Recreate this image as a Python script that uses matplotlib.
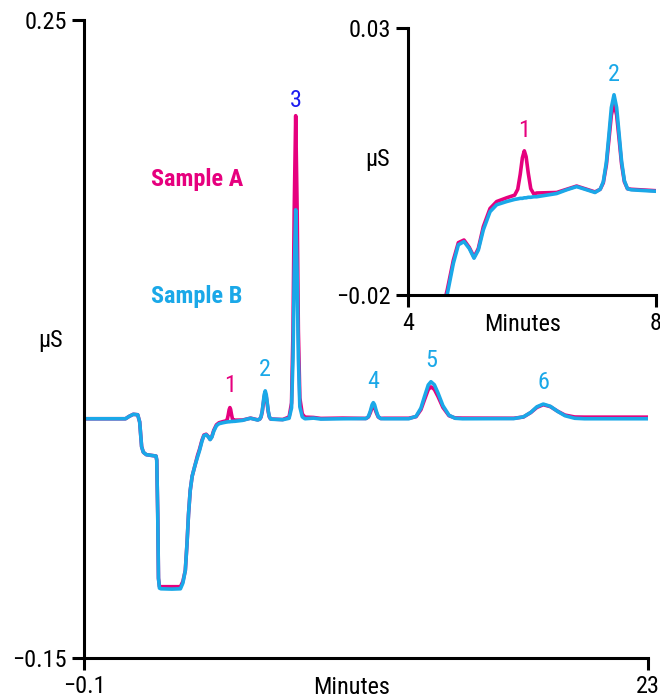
import matplotlib
matplotlib.use("Agg")
import matplotlib.pyplot as plt
from matplotlib import font_manager

names = {f.name for f in font_manager.fontManager.ttflist}
FONT = "DejaVu Sans"
for cand in ["Roboto Condensed", "Liberation Sans Narrow", "Roboto", "Liberation Sans"]:
    if cand in names:
        FONT = cand
        break
plt.rcParams['font.family'] = [FONT, 'DejaVu Sans']

# ---------------- data ----------------
time_min = [0.05, 1.6, 1.75, 1.92, 2.1, 2.18, 2.26, 2.33, 2.45, 2.85, 2.88, 2.92, 2.95, 2.99,
            3.05, 3.5, 3.85, 3.95, 4.05, 4.12, 4.18, 4.25, 4.33, 4.45, 4.55, 4.634, 4.731,
            4.812, 4.903, 4.989, 5.065, 5.134, 5.215, 5.323, 5.43, 5.591, 5.72, 5.77, 5.81,
            5.845, 5.876, 5.905, 5.94, 5.98, 6.03, 6.075, 6.398, 6.559, 6.72, 6.882, 7.016,
            7.10, 7.15, 7.20, 7.24, 7.28, 7.323, 7.365, 7.405, 7.445, 7.49, 7.54, 7.6,
            8.038, 8.3, 8.4, 8.46, 8.51, 8.57, 8.63, 8.68, 8.74, 8.84, 8.95, 9.3, 9.6, 10.5,
            11.45, 11.55, 11.63, 11.7, 11.75, 11.8, 11.87, 11.95, 12.05, 12.2, 13.2, 13.5,
            13.7, 13.85, 14.0, 14.11, 14.25, 14.4, 14.6, 14.85, 15.1, 15.4, 17.5, 17.9,
            18.2, 18.45, 18.71, 19.0, 19.3, 19.6, 20.0, 20.4, 22.0, 23.0]

sample_b = [0.0, 0.0, 0.0015, 0.0028, 0.0025, -0.002, -0.0175, -0.021, -0.0225, -0.0234,
            -0.026, -0.06, -0.10, -0.1062, -0.1066, -0.1068, -0.1066, -0.103, -0.095,
            -0.078, -0.060, -0.045, -0.036, -0.029, -0.024, -0.0198, -0.0141, -0.0106,
            -0.0100, -0.0113, -0.0131, -0.0116, -0.0078, -0.0044, -0.0031, -0.0025,
            -0.0021, -0.0020, -0.0019, -0.0019, -0.0018, -0.0018, -0.0017, -0.0017,
            -0.0016, -0.0016, -0.001, -0.0003, 0.0003, -0.0003, -0.0008,
            -0.0002, 0.0012, 0.0049, 0.0099, 0.0151, 0.0175, 0.0151, 0.0101, 0.0050,
            0.0014, -0.0001, -0.0003,
            -0.0006, 0.0003, 0.0068, 0.038, 0.090, 0.131, 0.090, 0.038, 0.0075, 0.0012,
            0.0, 0.0004, -0.0002, 0.0,
            0.0001, 0.0014, 0.0049, 0.0088, 0.0101, 0.0088, 0.0049, 0.0014, 0.0001, 0.0,
            0.0, 0.0015, 0.0067, 0.0141, 0.0212, 0.0232, 0.0213, 0.0161, 0.0082, 0.0022,
            0.0003, 0.0, 0.0001, 0.0012, 0.0040, 0.0075, 0.0092, 0.0078, 0.0046, 0.0019,
            0.0003, 0.0, 0.0, 0.0]

sample_a = [0.0, 0.0, 0.0015, 0.0028, 0.0025, -0.002, -0.0175, -0.021, -0.0225, -0.0234,
            -0.026, -0.06, -0.10, -0.1052, -0.1053, -0.1053, -0.1053, -0.102, -0.095,
            -0.078, -0.060, -0.045, -0.036, -0.029, -0.023, -0.0190, -0.0135, -0.0102,
            -0.0097, -0.0111, -0.0129, -0.0113, -0.0072, -0.0038, -0.0025, -0.0018,
            -0.0013, -0.0002, 0.0026, 0.0057, 0.0070, 0.0059, 0.0028, -0.0001, -0.0011,
            -0.0009, -0.0008, -0.0002, 0.0004, -0.0002, -0.0007,
            -0.0002, 0.0010, 0.0044, 0.0090, 0.0137, 0.0159, 0.0137, 0.0092, 0.0045,
            0.0012, -0.0001, -0.0002,
            -0.0005, 0.0011, 0.0099, 0.055, 0.131, 0.190, 0.131, 0.055, 0.013, 0.003,
            0.001, 0.0008, 0.0002, 0.0004,
            0.0002, 0.0011, 0.0039, 0.0070, 0.0080, 0.0070, 0.0039, 0.0011, 0.0002, 0.0003,
            0.0003, 0.0013, 0.0057, 0.0121, 0.0183, 0.0200, 0.0184, 0.0139, 0.0071, 0.0019,
            0.0005, 0.0004, 0.0003, 0.0011, 0.0039, 0.0071, 0.0088, 0.0076, 0.0047, 0.0023,
            0.0011, 0.0010, 0.0010, 0.0010]

main_peak_labels = ["1", "2", "3", "4", "5", "6"]
main_peak_times = [5.88, 7.32, 8.57, 11.75, 14.11, 18.71]
main_peak_heights = [0.0074, 0.0175, 0.190, 0.0101, 0.0232, 0.0092]
inset_peak_labels = ["1", "2"]
inset_peak_times = [5.876, 7.323]
inset_peak_heights = [0.0070, 0.0175]

PINK = "#e6007e"
CYAN = "#1aa8e8"
BLUE3 = "#1c1cf0"
main_label_colors = [PINK, CYAN, BLUE3, CYAN, CYAN, CYAN]
inset_label_colors = [PINK, CYAN]

FS = 17.5
LW = 2.6
fig = plt.figure(figsize=(6.6, 6.98), dpi=100)

def style(ax, xt, yt, xl, yl):
    for s in ("top", "right"):
        ax.spines[s].set_visible(False)
    for s in ("left", "bottom"):
        ax.spines[s].set_linewidth(2.2)
    ax.set_xticks(xt)
    ax.set_yticks(yt)
    ax.set_xticklabels(xl)
    ax.set_yticklabels(yl)
    ax.tick_params(direction="out", length=8.5, width=2.2, labelsize=FS, pad=4)
    ax.patch.set_alpha(0)

# main axes
ax = fig.add_axes([84/660, 1-658/698, (648-84)/660, (658-20)/698])
ax.plot(time_min, sample_a, color=PINK, lw=LW, solid_joinstyle="round")
ax.plot(time_min, sample_b, color=CYAN, lw=LW, solid_joinstyle="round")
ax.set_xlim(-0.1, 23)
ax.set_ylim(-0.15, 0.25)
style(ax, [-0.1, 23], [-0.15, 0.25], ["\u22120.1", "23"], ["\u22120.15", "0.25"])
ax.text(-0.0585, 0.497, "\u03bcS", transform=ax.transAxes, fontsize=FS, ha="center", va="center")
ax.text(0.475, -0.0455, "Minutes", transform=ax.transAxes, fontsize=FS, ha="center", va="center")
for lab, t, h, c in zip(main_peak_labels, main_peak_times, main_peak_heights, main_label_colors):
    off = 3 if lab == "3" else 7
    ax.annotate(lab, (t, h), xytext=(0, off), textcoords="offset points",
                ha="center", va="bottom", fontsize=FS, color=c)
ax.text(0.119, 0.750, "Sample A", transform=ax.transAxes, fontsize=FS, fontweight="bold",
        color=PINK, ha="left", va="center")
ax.text(0.119, 0.567, "Sample B", transform=ax.transAxes, fontsize=FS, fontweight="bold",
        color=CYAN, ha="left", va="center")

# inset axes
ai = fig.add_axes([408/660, 1-295/698, (656-408)/660, (295-28)/698])
ai.plot(time_min, sample_a, color=PINK, lw=LW, solid_joinstyle="round")
ai.plot(time_min, sample_b, color=CYAN, lw=LW, solid_joinstyle="round")
ai.set_xlim(4, 8)
ai.set_ylim(-0.02, 0.03)
style(ai, [4, 8], [-0.02, 0.03], ["4", "8"], ["\u22120.02", "0.03"])
ai.text(-0.121, 0.506, "\u03bcS", transform=ai.transAxes, fontsize=FS, ha="center", va="center")
ai.text(0.46, -0.112, "Minutes", transform=ai.transAxes, fontsize=FS, ha="center", va="center")
for lab, t, h, c in zip(inset_peak_labels, inset_peak_times, inset_peak_heights, inset_label_colors):
    ai.annotate(lab, (t, h), xytext=(0, 6), textcoords="offset points",
                ha="center", va="bottom", fontsize=FS, color=c)

fig.savefig("out.png", dpi=100)
